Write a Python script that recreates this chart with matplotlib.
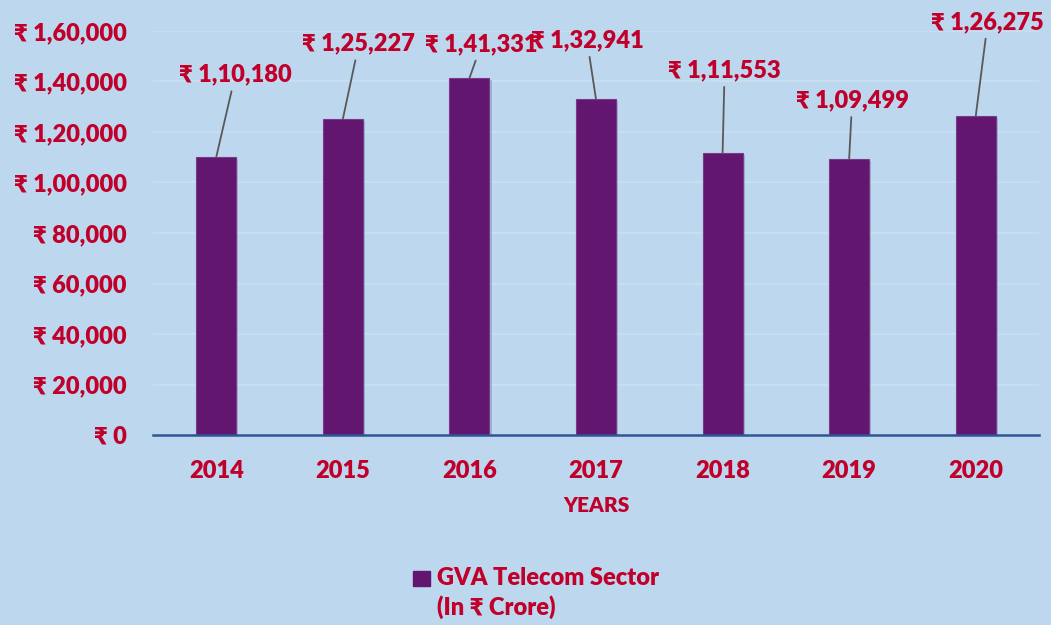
import numpy as np
import matplotlib.pyplot as plt
import matplotlib.patheffects as pe
from matplotlib.patches import Rectangle

years = ["2014", "2015", "2016", "2017", "2018", "2019", "2020"]
gva = [110180, 125227, 141331, 132941, 111553, 109499, 126275]
# label offsets from bar top, in pixels (dx, dy)
label_offsets = [(19, 82), (16, 75), (12, 34), (-9, 59), (2, 83), (3, 58), (12, 94)]
y_ticks = [0, 20000, 40000, 60000, 80000, 100000, 120000, 140000, 160000]

BG = "#BDD7EE"
BAR = "#62166F"
RED = "#C0002A"
WEIGHT = "heavy"

plt.rcParams["font.family"] = ["Lato", "Noto Sans", "DejaVu Sans"]
plt.rcParams["font.weight"] = WEIGHT


def inr(v):
    s = str(int(v))
    if len(s) <= 3:
        return "₹ " + s
    head, tail = s[:-3], s[-3:]
    parts = []
    while len(head) > 2:
        parts.insert(0, head[-2:])
        head = head[:-2]
    if head:
        parts.insert(0, head)
    return "₹ " + ",".join(parts) + "," + tail


fig = plt.figure(figsize=(10.51, 6.25), dpi=100, facecolor=BG)
ax = fig.add_axes([0.1456, 0.304, 0.843, 0.6464])
ax.set_facecolor(BG)

x = np.arange(len(years))
bars = ax.bar(x, gva, width=0.316, color=BAR, edgecolor="#7A3A8A", lw=0.8, zorder=3)
for b in bars:
    b.set_path_effects([pe.SimplePatchShadow(offset=(1.5, -1.5), shadow_rgbFace="#5A7390",
                                             alpha=0.35), pe.Normal()])

for xi, v, (dx, dy) in zip(x, gva, label_offsets):
    ax.annotate(inr(v), xy=(xi, v), xytext=(dx, dy), textcoords="offset pixels",
                ha="center", va="center", fontsize=17, fontweight=WEIGHT, color=RED,
                arrowprops=dict(arrowstyle="-", color="#595959", lw=1.3,
                                shrinkA=2, shrinkB=0))

ax.set_xlim(-0.5, len(years) - 0.5)
ax.set_ylim(0, 160000)
ax.set_yticks(y_ticks)
ax.set_yticklabels([inr(t) for t in y_ticks])
ax.set_xticks(x)
ax.set_xticklabels(years)
ax.tick_params(axis="both", length=0, labelsize=17, labelcolor=RED)
ax.tick_params(axis="y", pad=19)
ax.tick_params(axis="x", pad=18)
for lab in ax.get_xticklabels() + ax.get_yticklabels():
    lab.set_fontweight(WEIGHT)

ax.grid(axis="y", color="#CADFF1", lw=1.2, zorder=0)
for s in ["top", "right", "left"]:
    ax.spines[s].set_visible(False)
ax.spines["bottom"].set_color("#2F5597")
ax.spines["bottom"].set_linewidth(1.8)
ax.spines["bottom"].set_zorder(4)

ax.set_xlabel("YEARS", fontsize=15, fontweight=WEIGHT, color=RED, labelpad=10)

# legend drawn by hand: square swatch plus two-line label
fig.patches.append(Rectangle((413 / 1051, 1 - 586 / 625), 17 / 1051, 15 / 625,
                             transform=fig.transFigure, color=BAR))
fig.text(437 / 1051, 1 - 567 / 625, "GVA Telecom Sector\n(In ₹ Crore)",
         ha="left", va="top", fontsize=17, fontweight=WEIGHT, color=RED,
         linespacing=1.3)

fig.savefig("out.png", dpi=100, facecolor=BG)
